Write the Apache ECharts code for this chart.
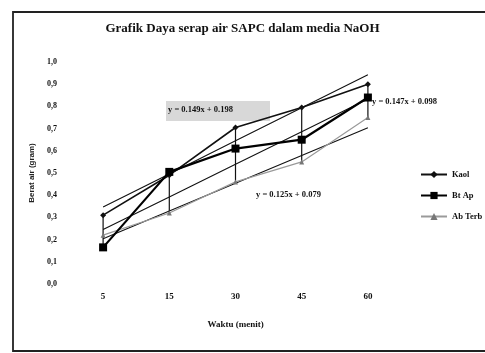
<!DOCTYPE html>
<html>
<head>
<meta charset="utf-8">
<script src="https://cdn.jsdelivr.net/npm/echarts@6/dist/echarts.min.js"></script>
<style>html,body{margin:0;padding:0;background:#fff;}#c{width:485px;height:353px;}</style>
</head>
<body>
<div id="c"></div>
<script>
// ---- data ----
var categories = ['5', '15', '30', '45', '60'];
var kaol   = [0.31, 0.49, 0.705, 0.795, 0.90];
var btAp   = [0.165, 0.505, 0.61, 0.65, 0.84];
var abTerb = [0.22, 0.32, 0.46, 0.55, 0.75];
var seriesNames = ['Kaol', 'Bt Ap', 'Ab Terb'];
// trendline coefficients (y = slope*x + intercept, x = 1..5)
var trendSlopes = [0.149, 0.147, 0.125];
var trendIntercepts = [0.198, 0.098, 0.079];
var trendLabels = ['y = 0.149x + 0.198', 'y = 0.147x + 0.098', 'y = 0.125x + 0.079'];
var yTickLabels = ['0,0','0,1','0,2','0,3','0,4','0,5','0,6','0,7','0,8','0,9','1,0'];

var all = [kaol, btAp, abTerb];
function trend(k) {
  return categories.map(function (c, i) { return +(trendSlopes[k] * (i + 1) + trendIntercepts[k]).toFixed(4); });
}
var hiLo = categories.map(function (c, i) {
  var vals = all.map(function (s) { return s[i]; });
  return [i, Math.min.apply(null, vals), Math.max.apply(null, vals)];
});

var chart = echarts.init(document.getElementById('c'));
var serif = '"Liberation Serif", "DejaVu Serif", serif';
var trendStyle = { color: '#111', width: 1.1 };

chart.setOption({
  backgroundColor: '#fff',
  animation: false,
  title: {
    text: 'Grafik Daya serap air SAPC dalam media NaOH',
    left: 'center', top: 17,
    textStyle: { fontFamily: serif, fontWeight: 'bold', fontSize: 13, color: '#111' }
  },
  grid: { left: 70, right: 84, top: 62, bottom: 69 },
  legend: {
    orient: 'vertical', left: 415, top: 165, itemGap: 12,
    itemWidth: 26, itemHeight: 9,
    data: seriesNames,
    textStyle: { fontFamily: serif, fontWeight: 'bold', fontSize: 8.5, color: '#111' }
  },
  xAxis: {
    type: 'category', data: categories, boundaryGap: true,
    name: 'Waktu (menit)', nameLocation: 'middle', nameGap: 36,
    nameTextStyle: { fontFamily: serif, fontWeight: 'bold', fontSize: 9, color: '#111' },
    axisLine: { show: false }, axisTick: { show: false }, splitLine: { show: false },
    axisLabel: { margin: 8, fontFamily: serif, fontWeight: 'bold', fontSize: 9, color: '#111' }
  },
  yAxis: {
    type: 'value', min: 0, max: 1.0, interval: 0.1,
    name: 'Berat air (gram)', nameLocation: 'middle', nameGap: 33, nameRotate: 90,
    nameTextStyle: { fontFamily: '"Liberation Sans", Arial, sans-serif', fontWeight: 'bold', fontSize: 8, color: '#222' },
    axisLine: { show: false }, axisTick: { show: false }, splitLine: { show: false },
    axisLabel: {
      margin: 13, fontFamily: serif, fontWeight: 'bold', fontSize: 8, color: '#111',
      formatter: function (v) { return yTickLabels[Math.round(v * 10)]; }
    }
  },
  graphic: [
    { type: 'rect', shape: { x: 13, y: 12, width: 480, height: 339 }, style: { fill: null, stroke: '#222', lineWidth: 1.8 }, silent: true, z: 0 },
    { type: 'rect', shape: { x: 166, y: 101, width: 104, height: 20 }, style: { fill: '#d8d8d8', stroke: null }, z: 1 },
    { type: 'text', x: 168, y: 105, style: { text: trendLabels[0], fontFamily: serif, fontWeight: 'bold', fontSize: 8.5, fill: '#111' }, z: 10 },
    { type: 'text', x: 372, y: 97, style: { text: trendLabels[1], fontFamily: serif, fontWeight: 'bold', fontSize: 8.5, fill: '#111' }, z: 10 },
    { type: 'text', x: 256, y: 190, style: { text: trendLabels[2], fontFamily: serif, fontWeight: 'bold', fontSize: 8.5, fill: '#111' }, z: 10 }
  ],
  series: [
    {
      type: 'custom', name: 'hilo', silent: true, z: 1,
      data: hiLo,
      renderItem: function (params, api) {
        var p1 = api.coord([api.value(0), api.value(1)]);
        var p2 = api.coord([api.value(0), api.value(2)]);
        return { type: 'line', shape: { x1: p1[0], y1: p1[1], x2: p2[0], y2: p2[1] }, style: { stroke: '#111', lineWidth: 1.2 } };
      }
    },
    { type: 'line', name: 'trend1', data: trend(0), symbol: 'none', lineStyle: trendStyle, silent: true, z: 2 },
    { type: 'line', name: 'trend2', data: trend(1), symbol: 'none', lineStyle: trendStyle, silent: true, z: 2 },
    { type: 'line', name: 'trend3', data: trend(2), symbol: 'none', lineStyle: trendStyle, silent: true, z: 2 },
    {
      type: 'line', name: seriesNames[0], data: kaol,
      symbol: 'diamond', symbolSize: 6,
      lineStyle: { color: '#111', width: 1.6 }, itemStyle: { color: '#111' }, z: 5
    },
    {
      type: 'line', name: seriesNames[1], data: btAp,
      symbol: 'rect', symbolSize: 8,
      lineStyle: { color: '#000', width: 2.2 }, itemStyle: { color: '#000' }, z: 6
    },
    {
      type: 'line', name: seriesNames[2], data: abTerb,
      symbol: 'triangle', symbolSize: 5,
      lineStyle: { color: '#9a9a9a', width: 1.2 }, itemStyle: { color: '#777' }, z: 4
    }
  ]
});
</script>
</body>
</html>
